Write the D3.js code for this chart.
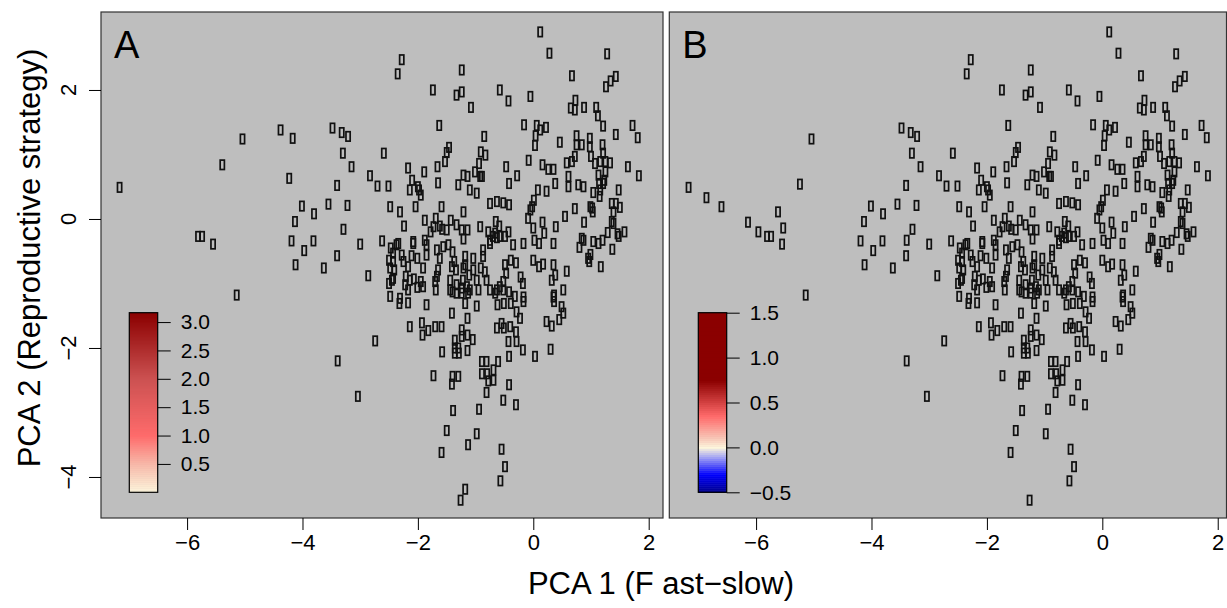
<!DOCTYPE html>
<html lang='en'>
<head>
<meta charset='utf-8'>
<title>PCA life history</title>
<script src='https://cdn.jsdelivr.net/npm/d3@7/dist/d3.min.js'></script>
<style>
  body { margin: 0; background: #fff; }
  text { font-family: 'Liberation Sans', Arial, sans-serif; fill: #000; }
</style>
</head>
<body>
<script>
// species scores [PCA1, PCA2] present in both panels
var sharedPts = [
  [-7.17,0.49],[-5.04,1.24],[-5.81,-0.27],[-5.74,-0.27],[-5.55,-0.39],[-4.01,0.20],[-4.13,-0.04],[-3.80,0.08],
  [-4.19,-0.34],[-3.97,-0.49],[-3.81,-0.34],[-4.12,-0.71],[-3.63,-0.76],[-3.48,1.41],[-3.32,1.34],[-3.21,1.28],
  [-3.30,1.02],[-3.15,0.81],[-3.40,0.52],[-3.55,0.23],[-3.22,0.21],[-3.29,-0.16],[-3.40,-0.57],[-3.00,-0.39],
  [-2.83,0.67],[-2.70,0.51],[-2.59,1.02],[-2.62,-0.34],[-2.86,-0.88],[-5.14,-1.18],[-2.74,-1.89],[-3.39,-2.20],
  [-3.04,-2.75],
  [0.12,2.90],[0.28,2.57],[1.28,2.56],[-2.28,2.47],[-2.35,2.25],[-1.24,2.31],[0.67,2.22],[1.43,2.21],[1.34,2.14],
  [1.26,2.05],[-1.74,2.00],[-1.33,1.92],[-1.24,1.97],[-0.58,2.00],[-0.43,1.83],[-0.05,1.90],[-1.08,1.73],[0.73,1.84],
  [0.72,1.69],[0.65,1.72],[0.88,1.73],[1.09,1.73],[1.12,1.60],[1.21,1.44],[1.72,1.45],[1.81,1.26],[1.43,1.31],
  [-1.63,1.45],[-0.16,1.46],[0.06,1.45],[0.12,1.38],[0.22,1.42],[0.04,1.29],[0.03,1.14],[0.46,1.19],[-0.85,1.28],
  [-1.46,1.11],[-1.50,1.03],[-1.53,0.89],[-0.91,1.04],[-0.83,0.99],[-0.94,0.86],[-0.89,0.66],[-0.08,0.91],[0.16,0.84],
  [0.26,0.77],[0.35,0.77],[0.75,1.29],[0.75,1.15],[0.84,1.15],[0.98,1.25],[0.98,1.12],[1.00,0.97],[1.07,0.86],
  [1.16,0.89],[1.20,1.15],[1.21,1.02],[1.25,0.89],[1.33,0.87],[1.25,0.73],[1.64,0.81],[1.83,0.67],[0.58,0.87],
  [0.67,0.89],[0.72,0.97],[-0.47,0.81],[-0.28,0.67],[-0.42,0.55],[0.08,0.45],[0.23,0.43],[0.38,0.55],[0.61,0.66],
  [0.61,0.50],[0.78,0.53],[0.87,0.50],[1.14,0.55],[1.21,0.55],[1.16,0.45],[1.15,0.35],[1.04,0.41],[1.48,0.45],
  [1.36,0.24],[1.43,0.24],[1.50,0.18],[1.39,0.11],[1.36,-0.04],[1.39,-0.07],[1.58,-0.20],[1.48,-0.27],[1.46,-0.23],
  [1.29,-0.21],[1.02,0.17],[0.99,0.19],[1.03,0.11],[0.72,0.16],[0.55,0.04],[0.88,-0.05],[0.84,-0.30],[0.87,-0.33],
  [0.80,-0.44],[1.04,-0.35],[0.99,-0.55],[0.95,-0.61],[1.13,-0.38],[1.20,-0.33],[1.17,-0.74],[1.37,-0.47],[0.01,0.29],
  [-0.02,0.19],[-0.05,0.14],[-0.09,0.01],[0.00,-0.14],[0.16,-0.05],[0.19,-0.22],[0.10,-0.38],[0.02,-0.33],[0.39,-0.12],
  [0.35,-0.38],[-0.17,-0.38],[-0.35,-0.40],[-0.75,0.24],[-0.63,0.27],[-0.52,0.25],[-0.42,0.22],[-0.92,-0.12],
  [-1.21,0.11],[-1.59,0.19],[-2.04,0.19],[-2.31,0.11],[-2.24,-0.11],[-2.48,0.19],[-2.17,0.79],[-2.10,0.60],
  [-2.14,0.45],[-1.98,0.45],[-1.95,0.37],[-2.00,0.50],[-1.89,0.73],[-1.66,0.81],[-1.65,0.56],[-1.30,0.53],[-1.21,0.68],
  [-1.14,0.66],[-1.10,0.45],[-0.98,0.40],[-1.01,0.73],[-0.92,0.66],[-1.88,-0.02],[-1.73,-0.12],[-1.78,-0.20],
  [-1.62,-0.11],[-1.43,-0.02],[-1.50,-0.17],[-1.33,-0.09],[-1.24,-0.17],[-1.14,-0.17],[-2.37,-0.40],[-2.08,-0.35],
  [-1.85,-0.40],[-2.51,0.51],[1.13,0.68],[1.23,0.60],
  [-1.69,0.01],[-1.58,-0.16],[-1.21,-0.31],[-0.78,-0.20],[-0.70,-0.27],[-0.65,-0.04],[-0.63,-0.29],[-0.75,-0.38],
  [-2.47,-0.45],[-2.43,-0.53],[-2.34,-0.38],[-2.50,-0.64],[-2.43,-0.66],[-2.48,-0.76],[-2.41,-0.79],[-2.45,-0.95],
  [-2.50,-1.00],[-2.28,-0.56],[-2.25,-0.66],[-2.17,-0.74],[-2.11,-0.57],[-2.01,-0.61],[-1.85,-0.56],[-2.08,-0.38],
  [-1.88,-0.33],[-1.91,-0.76],[-2.21,-0.89],[-2.14,-0.95],[-2.07,-0.93],[-1.95,-0.97],[-1.91,-1.05],[-2.01,-1.06],
  [-2.17,-1.10],[-2.48,-1.20],[-2.31,-1.23],[-1.67,-0.48],[-1.56,-0.43],[-1.47,-0.40],[-1.40,-0.51],[-1.62,-0.61],
  [-1.37,-0.66],[-1.41,-0.74],[-1.34,-0.79],[-1.65,-0.79],[-1.67,-0.89],[-1.70,-0.97],[-1.69,-1.10],[-1.44,-0.95],
  [-1.44,-1.10],[-1.33,-1.02],[-1.22,-0.95],[-1.24,-1.07],[-1.15,-1.05],[-1.13,-1.15],[-1.04,-0.61],[-1.04,-0.79],
  [-0.98,-0.95],[-0.95,-1.10],[-0.87,-0.48],[-0.87,-0.58],[-0.84,-0.82],[-0.81,-0.95],[-0.75,-1.10],[-0.66,-1.15],
  [-1.18,-0.58],[-1.18,-0.71],[-1.11,-0.87],[-0.91,-0.76],
  [-0.59,-0.11],[-0.66,-0.22],[-0.58,-0.27],[-0.49,-0.27],[-0.43,-0.20],[0.00,-0.64],[0.10,-0.74],[0.17,-0.70],
  [0.35,-0.71],[0.38,-0.87],[0.32,-0.95],[0.58,-0.81],[0.52,-1.10],[0.35,-1.21],[-0.17,-1.21],[-0.42,-1.13],
  [-0.49,-0.71],[-0.47,-0.84],[-0.52,-0.97],[-0.58,-1.05],[-0.63,-1.10],[-0.52,-1.10],[-0.39,-0.64],[-0.30,-0.68],
  [-0.22,-0.90],[-0.18,-1.00],[-0.75,-0.33],
  [-2.43,-0.92],[-2.32,-1.31],[-2.17,-1.30],[-2.22,-1.02],[-1.85,-1.33],[-2.14,-1.67],[-1.93,-1.61],[-1.92,-1.80],
  [-1.82,-1.73],[-1.70,-1.67],[-1.59,-1.67],[-1.58,-2.06],[-1.73,-2.43],[-1.40,-2.44],[-1.30,-2.44],[-1.41,-2.56],
  [-1.39,-2.97],[-1.50,-3.28],[-1.59,-3.62],[-0.98,-3.33],[-0.94,-2.95],[-0.81,-2.69],[-0.89,-2.21],[-0.81,-2.21],
  [-0.89,-2.40],[-0.80,-2.40],[-0.78,-2.51],[-0.69,-2.50],[-0.69,-2.34],[-0.61,-2.21],[-0.52,-2.81],[-0.42,-2.57],
  [-0.42,-2.13],[-0.30,-2.88],[-0.55,-3.57],[-0.49,-3.84],[-0.57,-4.06],[-1.26,-4.36],[0.03,-2.13],[0.30,-2.02],
  [0.23,-1.59],[0.32,-1.66],[0.45,-1.56],[0.52,-1.46],[0.49,-1.36],[0.36,-1.28],[0.36,-1.18],[0.97,-0.66],
  [-1.41,-1.46],[-1.14,-1.54],[-1.24,-1.72],[-1.24,-1.82],[-1.14,-1.80],[-1.05,-1.87],[-1.36,-1.88],[-1.36,-2.00],
  [-1.30,-2.00],[-1.36,-2.08],[-1.29,-2.08],[-1.14,-2.04],[-1.40,-1.13],[-1.33,-1.15],[-1.24,-1.15],[-1.18,-1.31],
  [-0.98,-1.35],[-1.10,-1.10],[-0.62,-1.33],[-0.51,-1.31],[-0.39,-1.31],[-0.29,-1.44],[-0.23,-1.54],[-0.17,-1.28],
  [-0.32,-1.20],[-0.63,-1.69],[-0.55,-1.62],[-0.51,-1.69],[-0.40,-1.67],[-0.30,-1.75],[-0.29,-1.90],[-0.43,-1.90],
  [-0.18,-2.03],[-1.21,-0.76]
];
// species shown only in panel A / only in panel B
var onlyA = [[-5.39,0.84],[-4.38,1.38],[-4.17,1.25],[-4.23,0.63],[-1.13,-3.50],[-1.18,-4.19]];
var onlyB = [[-6.86,0.33],[-6.60,0.19],[-6.14,-0.05],[-5.96,-0.20],[-5.62,0.11],[-5.53,-0.14],[-5.24,0.54],[-3.39,-0.33]];

var xTicks = [-6, -4, -2, 0, 2];
var yTicks = [-4, -2, 0, 2];
var legendTicksA = [0.5, 1.0, 1.5, 2.0, 2.5, 3.0];
var legendTicksB = [-0.5, 0.0, 0.5, 1.0, 1.5];
var colorStopsA = [0, 0.5, 1.0, 2.0, 3.165];
var colorsA = ['#fdf6dc', '#f8b8a8', '#ff6a6a', '#cc5252', '#8b0000'];
var colorStopsB = [-0.5, -0.3, -0.1, 0.0, 0.1, 0.35, 0.75, 1.5];
var colorsB = ['#00008b', '#0000ff', '#a8a8f4', '#fdf6dc', '#f8c8b8', '#ff6a6a', '#8b0000', '#8b0000'];

var W = 1227, H = 608;
var svg = d3.select('body').append('svg').attr('width', W).attr('height', H);

var panels = [
  { label: 'A', pts: sharedPts.concat(onlyA), x0: 101, x1: 663, dom: [-7.492, 2.248],
    legDom: [0, 3.165], legTicks: legendTicksA, stops: colorStopsA, cols: colorsA, legX: 129.3 },
  { label: 'B', pts: sharedPts.concat(onlyB), x0: 669.3, x1: 1226.5, dom: [-7.504, 2.152],
    legDom: [-0.5, 1.5], legTicks: legendTicksB, stops: colorStopsB, cols: colorsB, legX: 698.3 }
];
var plotTop = 12, plotBottom = 518;
var y = d3.scaleLinear().domain([-4.636, 3.209]).range([plotBottom, plotTop]);
var fmt1 = d3.format('.1f');
var minus = d => (d < 0 ? '\u2212' : '') + Math.abs(d);

panels.forEach(function(p) {
  var x = d3.scaleLinear().domain(p.dom).range([p.x0, p.x1]);
  var g = svg.append('g');

  g.append('rect').attr('x', p.x0).attr('y', plotTop).attr('width', p.x1 - p.x0).attr('height', plotBottom - plotTop)
    .attr('fill', '#bebebe');

  g.selectAll('rect.pt').data(p.pts).enter().append('rect').attr('class', 'pt')
    .attr('x', d => x(d[0]) - 2.1).attr('y', d => y(d[1]) - 4.7)
    .attr('width', 4.2).attr('height', 9.4)
    .attr('fill', 'none').attr('stroke', '#111').attr('stroke-width', 1.7);

  g.append('rect').attr('x', p.x0).attr('y', plotTop).attr('width', p.x1 - p.x0).attr('height', plotBottom - plotTop)
    .attr('fill', 'none').attr('stroke', '#333').attr('stroke-width', 1.2);

  // x axis
  var xa = g.append('g').attr('transform', 'translate(0,' + plotBottom + ')')
    .call(d3.axisBottom(x).tickValues(xTicks).tickSize(12).tickPadding(4).tickFormat(minus));
  xa.select('.domain').remove();
  xa.selectAll('line').attr('stroke', '#000');
  xa.selectAll('text').attr('font-size', 22).attr('font-family', 'Liberation Sans, Arial, sans-serif');

  // panel letter
  g.append('text').attr('x', p.x0 + 13).attr('y', 58).attr('font-size', 38).text(p.label);

  // colour bar
  var ly = d3.scaleLinear().domain(p.legDom).range([492.3, 312.7]);
  var cs = d3.scaleLinear().domain(p.stops).range(p.cols).interpolate(d3.interpolateRgb);
  var nb = 90, step = (p.legDom[1] - p.legDom[0]) / nb;
  g.selectAll('rect.band').data(d3.range(nb)).enter().append('rect').attr('class', 'band')
    .attr('x', p.legX).attr('width', 28.4)
    .attr('y', k => ly(p.legDom[0] + (k + 1) * step))
    .attr('height', k => ly(p.legDom[0] + k * step) - ly(p.legDom[0] + (k + 1) * step) + 0.5)
    .attr('fill', k => cs(p.legDom[0] + (k + 0.5) * step));
  g.append('rect').attr('x', p.legX).attr('y', 312.7).attr('width', 28.4).attr('height', 179.6)
    .attr('fill', 'none').attr('stroke', '#000').attr('stroke-width', 1.2);
  var lg = g.append('g').attr('transform', 'translate(' + (p.legX + 28.4) + ',0)')
    .call(d3.axisRight(ly).tickValues(p.legTicks).tickSize(13).tickPadding(10)
      .tickFormat(d => (d < 0 ? '\u2212' : '') + fmt1(Math.abs(d))));
  lg.select('.domain').remove();
  lg.selectAll('line').attr('stroke', '#000');
  lg.selectAll('text').attr('font-size', 21).attr('font-family', 'Liberation Sans, Arial, sans-serif');
});

// y axis on panel A only
var ya = svg.append('g').attr('transform', 'translate(101,0)')
  .call(d3.axisLeft(y).tickValues(yTicks).tickSize(12).tickFormat(''));
ya.select('.domain').remove();
ya.selectAll('line').attr('stroke', '#000');
svg.selectAll('text.ytick').data(yTicks).enter().append('text').attr('class', 'ytick')
  .attr('transform', d => 'translate(76,' + y(d) + ') rotate(-90)')
  .attr('text-anchor', 'middle').attr('font-size', 22)
  .text(minus);

// axis titles
svg.append('text').attr('x', 661).attr('y', 594).attr('text-anchor', 'middle').attr('font-size', 31)
  .text('PCA 1 (F ast\u2212slow)');
svg.append('text').attr('transform', 'translate(40,258) rotate(-90)').attr('text-anchor', 'middle')
  .attr('font-size', 31).text('PCA 2 (Reproductive strategy)');
</script>
</body>
</html>
